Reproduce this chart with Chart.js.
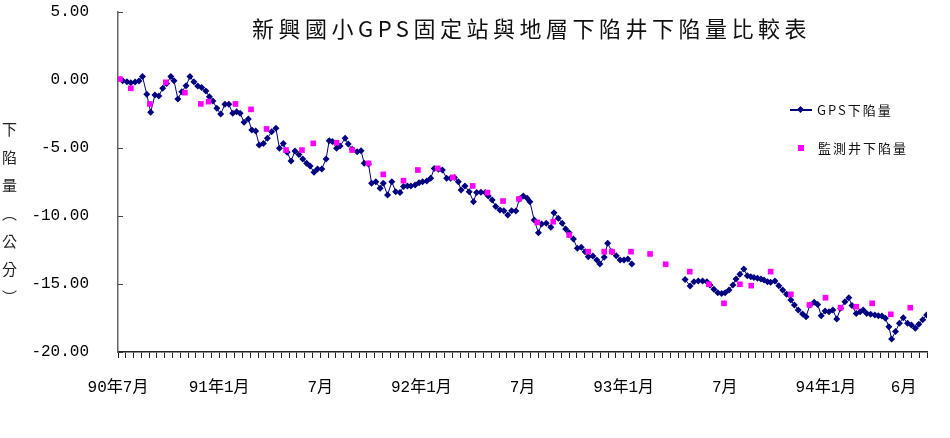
<!DOCTYPE html>
<html>
<head>
<meta charset="utf-8">
<script src="https://cdn.jsdelivr.net/npm/chart.js@4.4.1/dist/chart.umd.min.js"></script>
<style>
  body { margin: 0; background: #fff; }
  #wrap { position: relative; width: 950px; height: 438px; }
  #title {
    position: absolute; left: 252px; top: 13px;
    font: 22px "Noto Sans CJK TC"; line-height: 28px;
    letter-spacing: 4.5px; color: #111; white-space: nowrap;
  }
  #ylabel {
    position: absolute; left: 2px; top: 122px;
    writing-mode: vertical-rl;
    font: 15px "Noto Sans CJK TC"; line-height: 15px;
    letter-spacing: 13px; color: #222;
  }
  .legText {
    position: absolute; font: 13px "Noto Sans CJK TC"; line-height: 16px;
    letter-spacing: 2px; color: #111; white-space: nowrap;
  }
</style>
</head>
<body>
<div id="wrap">
  <canvas id="chart" width="950" height="438"></canvas>
  <div id="title">新興國小GPS固定站與地層下陷井下陷量比較表</div>
  <div id="ylabel">下陷量（公分）</div>
  <div id="legGpsLine" style="position:absolute;left:790px;top:109px;width:22px;height:1.5px;background:#000080"></div>
  <div id="legGpsMark" style="position:absolute;left:798px;top:107px;width:5px;height:5px;background:#000080;transform:rotate(45deg)"></div>
  <div class="legText" id="legGps" style="left:817px;top:102px">GPS下陷量</div>
  <div id="legWellMark" style="position:absolute;left:798px;top:145px;width:6px;height:6px;background:#ff00ff"></div>
  <div class="legText" id="legWell" style="left:818px;top:140px">監測井下陷量</div>
</div>
<script>
// ---------------------------
// データ (x = 90年7月からの週数)
// ---------------------------

// GPS下陷量
const gpsWeek = [
  1.2, 2.3, 3.3, 4.4, 5.4, 6.3, 7.4, 8.4, 9.5, 10.5, 11.5, 12.5, 13.6, 14.4, 15.4, 16.4, 17.5, 18.5, 19.5, 20.5,
  21.5, 22.6, 23.5, 24.4, 25.4, 26.4, 27.5, 28.5, 29.5, 30.5, 31.4, 32.4, 33.5, 34.4, 35.4, 36.3, 37.4, 38.4, 39.5, 40.6,
  41.5, 42.5, 43.5, 44.5, 45.5, 46.5, 47.5, 48.5, 49.4, 50.4, 51.3, 52.4,
  53.5, 54.3, 55.1, 56.2, 57.1, 58.4, 59.2, 60.2, 61.5, 62.5, 63.3, 64.4, 65.2, 66.3, 67.4, 68.2, 69.3, 70.4, 71.4, 72.5,
  73.4, 74.4, 75.3, 76.4, 77.4, 78.3, 79.4, 80.4, 81.3, 82.4, 83.4, 84.5, 85.5, 86.5, 87.5, 88.2, 89.2, 90.3, 91.4, 92.2,
  93.3, 94.4, 95.2, 96.2, 97.1, 98.2, 99.2, 100.2, 101.2, 102.3, 103.2, 104.2, 105.2, 105.9,
  107.0, 108.1, 108.9, 110.1, 111.3, 112.1, 113.2, 114.2, 115.1, 116.0, 117.1, 118.1, 119.1, 120.1, 120.9, 122.1,
  123.1, 123.9, 125.0, 125.9, 127.0, 128.1, 129.1, 130.1, 131.1, 132.1,
  145.8, 147.1, 148.1, 149.2, 150.3, 151.4, 152.2, 153.2, 154.2, 155.2, 156.1, 157.1, 158.1,
  158.9, 159.9, 160.9, 161.8, 162.7, 163.5, 164.4, 165.3, 166.1, 167.0, 167.8, 168.9, 169.9, 170.9, 171.9, 173.0,
  173.9, 174.9, 176.0, 176.9, 177.9, 179.0, 179.9, 180.8, 181.8, 182.8, 183.8, 184.8, 185.8, 186.9, 187.9, 188.7,
  189.8, 190.8, 191.6, 192.5, 193.5, 194.6, 195.5, 196.4, 197.3, 198.2, 198.9, 199.9, 200.9, 201.9, 203.0, 204.0,
  205.0, 205.9, 206.9, 207.9
];
const gpsValue = [
  -0.05, -0.12, -0.20, -0.15, -0.08, 0.25, -1.05, -2.38, -1.10, -1.18, -0.61, -0.25, 0.25, -0.05, -1.40, -0.86, -0.42, 0.25, -0.12, -0.44,
  -0.56, -0.81, -1.23, -1.54, -2.08, -2.50, -1.79, -1.79, -2.45, -2.33, -2.45, -3.11, -2.87, -3.68, -3.75, -4.78, -4.66, -4.29, -3.80, -3.55,
  -5.02, -4.66, -5.32, -5.96, -5.22, -5.47, -5.81, -6.13, -6.32, -6.79, -6.54, -6.54,
  -5.80, -4.46, -4.53, -5.02, -4.85, -4.29, -4.71, -5.10, -5.27, -5.20, -6.13, -6.18, -7.60, -7.48, -7.96, -7.60, -8.46, -7.48, -8.21, -8.28,
  -7.84, -7.79, -7.79, -7.72, -7.55, -7.48, -7.43, -7.23, -6.50, -6.57, -6.62, -7.23, -7.23, -7.16, -7.48, -8.09, -7.79, -8.21, -8.95, -8.28,
  -8.26, -8.28, -8.53, -8.82, -9.31, -9.56, -9.61, -9.93, -9.61, -9.63, -8.75, -8.53, -8.70, -8.95,
  -10.29, -11.23, -10.59, -10.54, -10.83, -9.76, -10.17, -10.54, -10.96, -11.23, -11.69, -12.38, -12.30, -12.62, -12.99, -12.94,
  -13.24, -13.53, -13.04, -12.01, -12.62, -12.92, -13.24, -13.24, -13.16, -13.53,
  -14.66, -15.15, -14.83, -14.78, -14.78, -14.83, -15.07, -15.39, -15.64, -15.69, -15.64, -15.44, -15.07,
  -14.63, -14.29, -13.90, -14.39, -14.46, -14.53, -14.58, -14.63, -14.71, -14.83, -14.88, -14.78, -15.12, -15.44, -15.76, -16.18,
  -16.54, -16.91, -17.21, -17.40, -16.54, -16.35, -16.50, -17.33, -16.99, -17.04, -16.91, -17.57, -16.79, -16.30, -16.01, -16.59,
  -17.16, -17.04, -16.91, -17.16, -17.23, -17.28, -17.33, -17.35, -17.52, -18.14, -19.04, -18.50, -17.89, -17.48, -17.89, -18.01,
  -18.26, -17.96, -17.62, -17.28
];

// 監測井下陷量
const wellWeek = [
  0.5, 3.3, 8.2, 12.3, 17.2, 21.3, 23.3, 30.2, 34.2, 38.2, 43.2, 47.3, 50.2, 56.2, 60.2, 64.4,
  68.2, 73.4, 77.1, 82.2, 86.1, 91.2, 95.0, 99.0, 103.1, 107.8, 111.9, 116.0, 120.9, 125.0, 127.0, 131.9,
  136.8, 140.8, 147.0, 151.9, 155.8, 159.9, 162.8, 167.8, 173.0, 177.8, 181.9, 185.8, 189.8, 193.9, 198.7, 203.7
];
const wellValue = [
  0.07, -0.61, -1.76, -0.17, -0.93, -1.76, -1.59, -1.76, -2.16, -3.60, -5.15, -5.15, -4.66, -4.61, -5.15, -6.13,
  -6.94, -7.40, -6.62, -6.50, -7.16, -7.79, -8.28, -8.90, -8.75, -10.47, -10.42, -11.40, -12.62, -12.62, -12.62, -12.62,
  -12.79, -13.55, -14.09, -15.02, -16.42, -15.02, -15.12, -14.09, -15.76, -16.54, -16.01, -16.74, -16.67, -16.42, -17.23, -16.74
];

// x軸ラベル
const xLabelWeeks = [0, 26, 52, 78, 104, 130, 156, 182, 202];
const xLabelTexts = ["90年7月", "91年1月", "7月", "92年1月", "7月", "93年1月", "7月", "94年1月", "6月"];

// ---------------------------
// グラフ
// ---------------------------

const tickWeeks = [];
for (let w = 0; w <= 208; w += 2) tickWeeks.push(w);

function labelAt(v) {
  const i = xLabelWeeks.indexOf(v);
  return i >= 0 ? xLabelTexts[i] : "";
}

const digitFont = '"Liberation Mono", "Noto Sans CJK TC"';

const ctx = document.getElementById("chart").getContext("2d");
new Chart(ctx, {
  type: "line",
  data: {
    datasets: [
      {
        label: "GPS下陷量",
        data: gpsWeek.map((w, i) => ({ x: w, y: gpsValue[i] })),
        borderColor: "#000080",
        borderWidth: 1,
        backgroundColor: "#000080",
        pointStyle: "rectRot",
        pointRadius: 3.5,
        pointBorderWidth: 0,
        spanGaps: 4,
        order: 1
      },
      {
        label: "監測井下陷量",
        data: wellWeek.map((w, i) => ({ x: w, y: wellValue[i] })),
        showLine: false,
        backgroundColor: "#ff00ff",
        borderColor: "#ff00ff",
        pointStyle: "rect",
        pointRadius: 4,
        pointBorderWidth: 0,
        order: 0
      }
    ]
  },
  options: {
    responsive: false,
    animation: false,
    layout: { padding: { top: 12, right: 23, left: 0, bottom: 0 } },
    plugins: {
      legend: { display: false },
      title: { display: false },
      tooltip: { enabled: false }
    },
    scales: {
      x: {
        type: "linear",
        min: 0,
        max: 208,
        afterBuildTicks: s => { s.ticks = tickWeeks.map(v => ({ value: v })); },
        afterFit: s => { s.height = 86; },
        ticks: {
          autoSkip: false,
          maxRotation: 0,
          padding: 20,
          color: "#000",
          font: { family: digitFont, size: 16 },
          callback: v => labelAt(v)
        },
        grid: { drawOnChartArea: false, tickLength: 6, color: "#222" },
        border: { color: "#222", width: 1.5 }
      },
      y: {
        min: -20,
        max: 5,
        afterFit: s => {
          s.width = 118;
          s.paddingTop = 8;
          s.paddingBottom = 8;
        },
        ticks: {
          stepSize: 5,
          padding: 34,
          color: "#000",
          font: { family: digitFont, size: 16 },
          callback: v => v.toFixed(2)
        },
        grid: { drawOnChartArea: false, tickLength: -5, color: "#444" },
        border: { color: "#666", width: 1.5 }
      }
    }
  }
});
</script>
</body>
</html>
